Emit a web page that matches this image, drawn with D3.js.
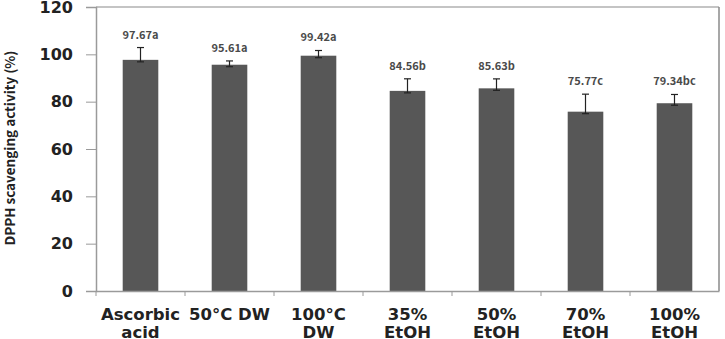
<!DOCTYPE html>
<html>
<head>
<meta charset="utf-8">
<script src="https://cdn.jsdelivr.net/npm/d3@7"></script>
<style>
  body { margin: 0; background: #fff; }
  svg { display: block; }
</style>
</head>
<body>
<div id="chart"></div>
<script>
// categories (each is a list of label lines)
var categories = ["Ascorbic acid", "50°C DW", "100°C DW", "35% EtOH", "50% EtOH", "70% EtOH", "100% EtOH"];
var labelLines = [["Ascorbic", "acid"], ["50°C DW"], ["100°C", "DW"], ["35%", "EtOH"], ["50%", "EtOH"], ["70%", "EtOH"], ["100%", "EtOH"]];
var values = [97.67, 95.61, 99.42, 84.56, 85.63, 75.77, 79.34];
var errors = [5.2, 1.6, 2.2, 5.1, 4.0, 7.4, 3.7];
var letters = ["a", "a", "a", "b", "b", "c", "bc"];
var yTicks = [0, 20, 40, 60, 80, 100, 120];

var w = 725, h = 339;
var margin = {left: 96, right: 6, top: 7, bottom: 48};
var font = "'Noto Sans CJK KR', 'Noto Sans', sans-serif";
var wideFont = "'DejaVu Sans', sans-serif";

var svg = d3.select("#chart").append("svg")
  .attr("width", w)
  .attr("height", h);

var xScale = d3.scaleBand()
  .domain(categories)
  .range([margin.left, w - margin.right])
  .paddingInner(0.6)
  .paddingOuter(0.3);

var yScale = d3.scaleLinear()
  .domain([0, 120])
  .range([h - margin.bottom, margin.top]);

// frame (top + right)
svg.append("line")
  .attr("x1", margin.left).attr("x2", w - margin.right)
  .attr("y1", margin.top).attr("y2", margin.top)
  .attr("stroke", "#b0b0b0").attr("stroke-width", 1.5);
svg.append("line")
  .attr("x1", w - margin.right).attr("x2", w - margin.right)
  .attr("y1", margin.top).attr("y2", h - margin.bottom)
  .attr("stroke", "#8a8a8a").attr("stroke-width", 1.5);

// bars
svg.selectAll("rect.bar")
  .data(values)
  .enter()
  .append("rect")
  .attr("class", "bar")
  .attr("x", function (d, i) { return xScale(categories[i]); })
  .attr("y", function (d) { return yScale(d); })
  .attr("width", xScale.bandwidth())
  .attr("height", function (d) { return yScale(0) - yScale(d); })
  .attr("fill", "#575757");

// error bars
var cx = function (i) { return xScale(categories[i]) + xScale.bandwidth() / 2; };
var eb = svg.append("g").attr("stroke", "#222").attr("stroke-width", 1.2);
values.forEach(function (d, i) {
  var top = yScale(d + errors[i]), base = yScale(d) + 2;
  eb.append("line").attr("x1", cx(i)).attr("x2", cx(i)).attr("y1", top).attr("y2", base);
  eb.append("line").attr("x1", cx(i) - 3.5).attr("x2", cx(i) + 3.5).attr("y1", top).attr("y2", top);
  eb.append("line").attr("x1", cx(i) - 3.5).attr("x2", cx(i) + 3.5).attr("y1", base).attr("y2", base);
});

// value labels
svg.selectAll("text.val")
  .data(values)
  .enter()
  .append("text")
  .attr("class", "val")
  .attr("x", function (d, i) { return cx(i); })
  .attr("y", function (d, i) { return yScale(d + errors[i]) - 9; })
  .attr("text-anchor", "middle")
  .attr("font-family", font)
  .attr("font-weight", "bold")
  .attr("font-size", "11px")
  .attr("fill", "#4a4a4a")
  .text(function (d, i) { return d.toFixed(2) + letters[i]; });

// y axis
var yAxis = d3.axisLeft(yScale).tickValues(yTicks).tickSize(10).tickPadding(13);
var gy = svg.append("g")
  .attr("transform", "translate(" + margin.left + ",0)")
  .call(yAxis);
gy.select(".domain").attr("stroke", "#9a9a9a").attr("stroke-width", 1.5);
gy.selectAll(".tick line").attr("stroke", "#9a9a9a");
gy.selectAll(".tick text")
  .attr("font-family", wideFont)
  .attr("font-weight", "bold")
  .attr("font-size", "16px")
  .attr("fill", "#222");

// x axis
var xAxis = d3.axisBottom(xScale).tickSize(0).tickFormat("");
var gx = svg.append("g")
  .attr("transform", "translate(0," + yScale(0) + ")")
  .call(xAxis);
gx.select(".domain").attr("stroke", "#9a9a9a").attr("stroke-width", 1.5);

// tick marks between categories
var bounds = d3.range(categories.length).map(function (i) { return margin.left + i * xScale.step(); });
gx.selectAll("line.sep")
  .data(bounds)
  .enter()
  .append("line")
  .attr("class", "sep")
  .attr("x1", function (d) { return d; })
  .attr("x2", function (d) { return d; })
  .attr("y1", 0).attr("y2", 5)
  .attr("stroke", "#9a9a9a");

// category labels
svg.selectAll("text.cat")
  .data(labelLines)
  .enter()
  .append("text")
  .attr("class", "cat")
  .attr("x", function (d, i) { return cx(i); })
  .attr("y", yScale(0) + 29)
  .attr("text-anchor", "middle")
  .attr("font-family", wideFont)
  .attr("font-weight", "bold")
  .attr("font-size", "16.5px")
  .attr("fill", "#222")
  .selectAll("tspan")
  .data(function (d) { return d; })
  .enter()
  .append("tspan")
  .attr("x", function () { return d3.select(this.parentNode).attr("x"); })
  .attr("dy", function (d, j) { return j === 0 ? 0 : 18; })
  .text(function (d) { return d; });

// y title
svg.append("text")
  .attr("transform", "translate(15," + 148 + ") rotate(-90)")
  .attr("text-anchor", "middle")
  .attr("font-family", font)
  .attr("font-weight", "bold")
  .attr("font-size", "13.5px")
  .attr("fill", "#222")
  .text("DPPH scavenging activity (%)");
</script>
</body>
</html>
